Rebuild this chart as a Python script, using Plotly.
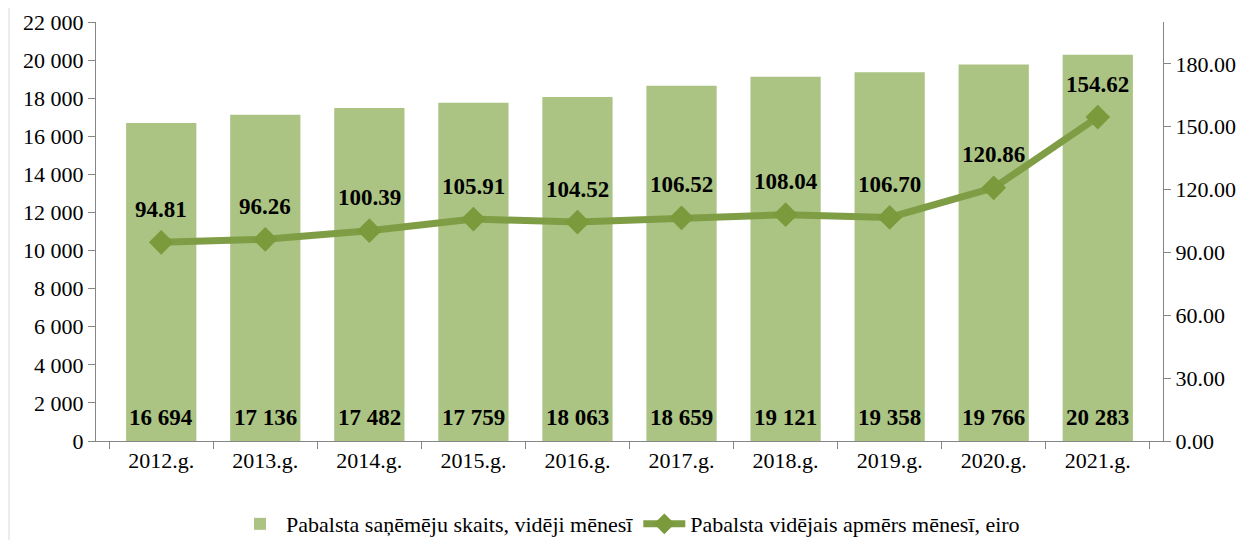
import plotly.graph_objs as go
from plotly.subplots import make_subplots

years = ['2012.g.', '2013.g.', '2014.g.', '2015.g.', '2016.g.',
         '2017.g.', '2018.g.', '2019.g.', '2020.g.', '2021.g.']
recipients = [16694, 17136, 17482, 17759, 18063, 18659, 19121, 19358, 19766, 20283]
avg_amount = [94.81, 96.26, 100.39, 105.91, 104.52, 106.52, 108.04, 106.70, 120.86, 154.62]

left_ticks = list(range(0, 22001, 2000))
right_ticks = [0, 30, 60, 90, 120, 150, 180]

FONT = 'Liberation Serif'
label_font = dict(family=FONT, size=23, color='black', weight='bold')

fig = make_subplots(specs=[[{"secondary_y": True}]])

fig.add_trace(go.Bar(
    x=years, y=recipients, name='Pabalsta saņēmēju skaits, vidēji mēnesī',
    marker=dict(color='#abc484', line=dict(width=0)),
), secondary_y=False)

fig.add_trace(go.Scatter(
    x=years, y=avg_amount, name='Pabalsta vidējais apmērs mēnesī, eiro',
    mode='lines+markers',
    line=dict(color='#7f9d45', width=7),
    marker=dict(symbol='diamond', size=19, color='#7a9a3c'),
), secondary_y=True)

# value labels
for yr, v in zip(years, recipients):
    fig.add_annotation(x=yr, y=0, xref='x', yref='y', yshift=24, showarrow=False,
                       text=f'{v:,}'.replace(',', ' '), font=label_font, yanchor='middle')
for yr, v in zip(years, avg_amount):
    fig.add_annotation(x=yr, y=v, xref='x', yref='y2', yshift=33, showarrow=False,
                       text=f'{v:.2f}', font=label_font, yanchor='middle')

fig.update_layout(
    width=1243, height=532,
    margin=dict(l=88, r=88, t=14, b=99, autoexpand=False),
    plot_bgcolor='white', paper_bgcolor='white',
    bargap=0.325,
    separators='. ',
    font=dict(family=FONT, size=22, color='black'),
    showlegend=True,
    legend=dict(orientation='h', x=0.5, xanchor='center',
                yref='container', y=0.03, yanchor='middle',
                font=dict(family=FONT, size=22), traceorder='normal',
                itemwidth=42, tracegroupgap=0),
    shapes=[dict(type='line', xref='paper', yref='paper', x0=-0.0815, x1=-0.0815,
                 y0=-0.24, y1=1.04, line=dict(color='#d9d9d9', width=1))],
)

fig.update_xaxes(
    domain=[0, 1],
    showline=True, linecolor='#868686', linewidth=1,
    ticks='outside', tickson='boundaries', ticklen=7, tickcolor='#868686',
    tickfont=dict(family=FONT, size=22), automargin=False,
)
fig.update_yaxes(
    range=[0, 22000], tickvals=left_ticks, tickformat=',d',
    showline=True, linecolor='#868686', linewidth=1,
    ticks='outside', ticklen=7, tickcolor='#868686', showgrid=False,
    tickfont=dict(family=FONT, size=22), zeroline=False, automargin=False,
    secondary_y=False,
)
fig.update_yaxes(
    range=[0, 200], tickvals=right_ticks, tickformat='.2f',
    showline=True, linecolor='#868686', linewidth=1,
    ticks='outside', ticklen=7, tickcolor='#868686', showgrid=False,
    tickfont=dict(family=FONT, size=22), zeroline=False, automargin=False,
    secondary_y=True,
)

fig.write_html("out.html")
